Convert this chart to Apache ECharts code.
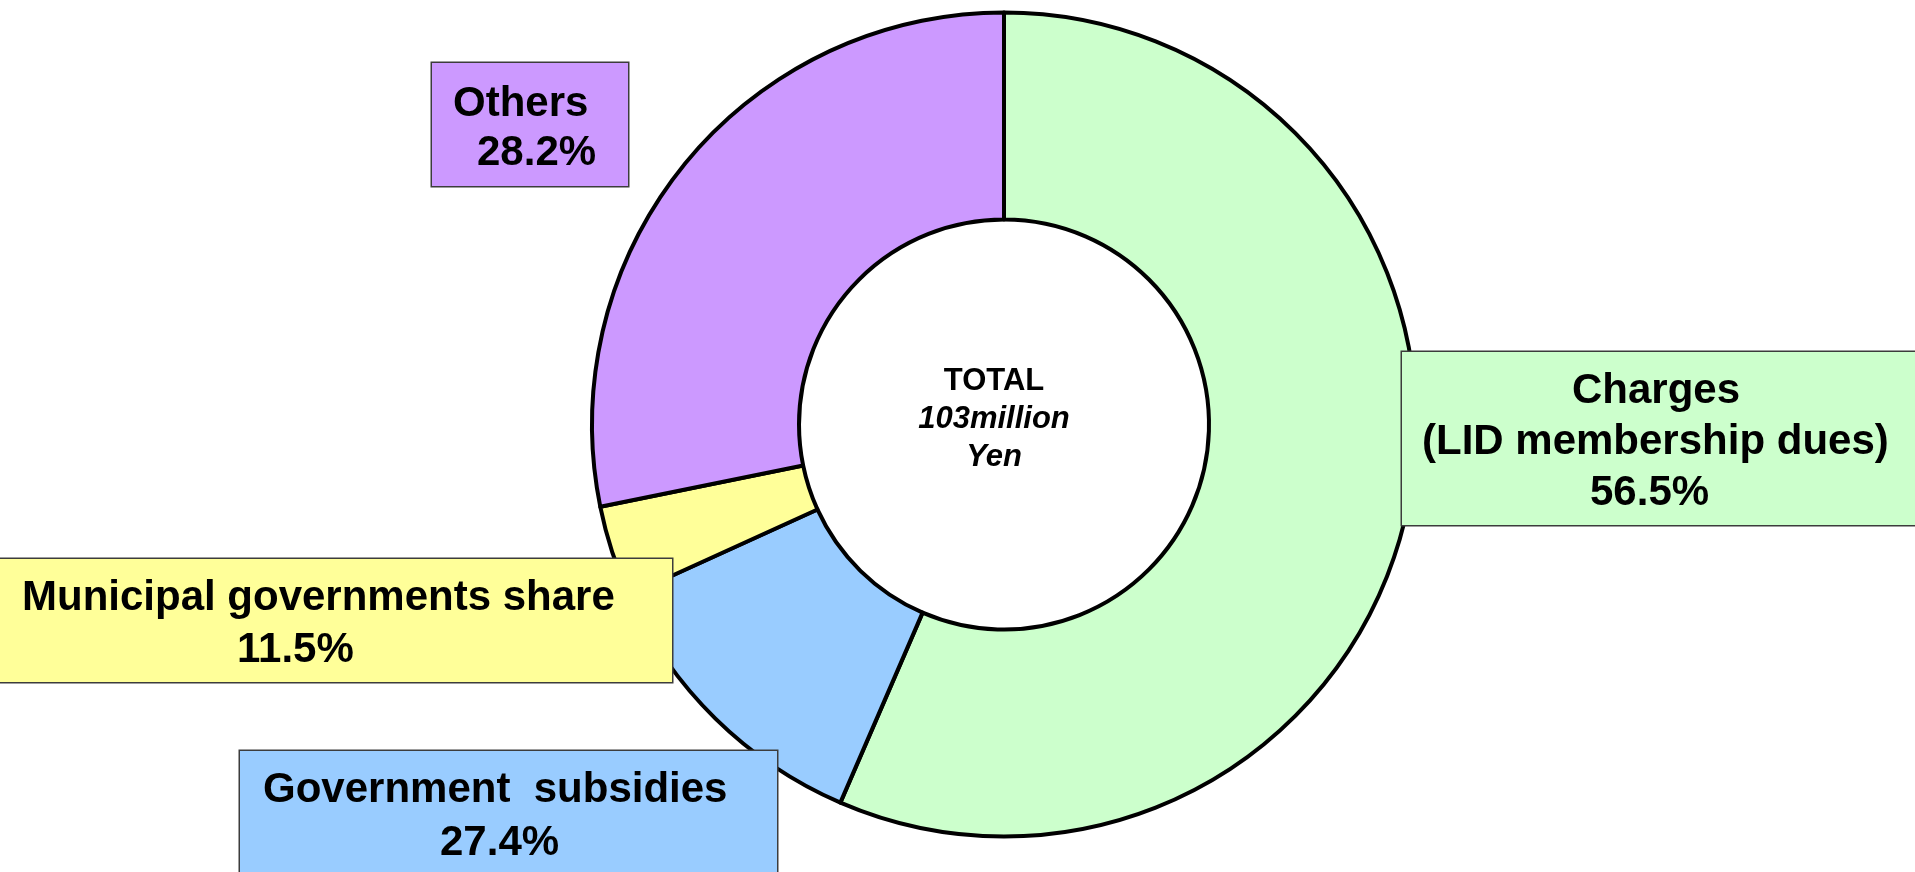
<!DOCTYPE html>
<html>
<head>
<meta charset="utf-8">
<title>Revenue breakdown</title>
<script src="https://cdn.jsdelivr.net/npm/echarts@6/dist/echarts.min.js"></script>
<style>
  html, body { margin: 0; padding: 0; background: #ffffff; }
  #chart { width: 1915px; height: 872px; }
</style>
</head>
<body>
<div id="chart"></div>
<script>
// Revenue sources, clockwise from 12 o'clock
const categories = ['Charges', 'Government  subsidies', 'Municipal governments share', 'Others'];
// Slice sizes (share of the ring, %)
const shares = [56.5, 11.7, 3.6, 28.2];
// Printed callout text for each source
const labelLines = [
  ['Charges', '(LID membership dues)', '56.5%'],
  ['Government  subsidies', '27.4%'],
  ['Municipal governments share', '11.5%'],
  ['Others', '28.2%']
];
const sliceColors = ['#CCFFCC', '#99CCFF', '#FFFF99', '#CC99FF'];
// Text in the hole of the ring
const centerLines = ['TOTAL', '103million', 'Yen'];

const FONT = '"Liberation Sans", Arial, Helvetica, sans-serif';

// Callout boxes: top-left corner, size, first-line offset, line spacing, per-line indent
const boxes = [
  { x: 1402, y: 352, w: 540, h: 173, top: 14,   lh: 51,   indent: [170, 20, 188] },
  { x: 240,  y: 751, w: 537, h: 140, top: 13.5, lh: 52.5, indent: [23, 200] },
  { x: 0,    y: 559, w: 672, h: 123, top: 14,   lh: 51.7, indent: [22, 237] },
  { x: 432,  y: 63,  w: 196, h: 123, top: 16.5, lh: 49,   indent: [21, 45] }
];

function calloutLabel(i) {
  const b = boxes[i];
  const rich = {};
  b.indent.forEach(function (pad, k) {
    rich['l' + k] = {
      fontFamily: FONT, fontSize: 42, fontWeight: 'bold', color: '#000000',
      lineHeight: b.lh, padding: [0, 0, 0, pad], align: 'left'
    };
  });
  return {
    show: true,
    formatter: labelLines[i].map(function (t, k) { return '{l' + k + '|' + t + '}'; }).join('\n'),
    rich: rich,
    backgroundColor: sliceColors[i],
    borderColor: '#3c3c3c',
    borderWidth: 1.5,
    padding: [b.top, 0, 0, 0],
    width: b.w,
    height: b.h - b.top,
    overflow: 'none',
    align: 'left',
    verticalAlign: 'top'
  };
}

const chart = echarts.init(document.getElementById('chart'), null, { renderer: 'canvas' });

chart.setOption({
  animation: false,
  backgroundColor: '#ffffff',
  series: [{
    type: 'pie',
    center: [1004, 424.5],
    radius: [205, 412],
    startAngle: 90,
    clockwise: true,
    avoidLabelOverlap: false,
    silent: true,
    itemStyle: { borderColor: '#000000', borderWidth: 4 },
    labelLine: { show: false },
    labelLayout: function (params) {
      const b = boxes[params.dataIndex];
      return { x: b.x, y: b.y, align: 'left', verticalAlign: 'top' };
    },
    data: categories.map(function (name, i) {
      return {
        name: name,
        value: shares[i],
        itemStyle: { color: sliceColors[i] },
        label: calloutLabel(i)
      };
    })
  }],
  graphic: [{
    type: 'text',
    x: 994,
    y: 419,
    silent: true,
    style: {
      text: '{a|' + centerLines[0] + '}\n{b|' + centerLines[1] + '}\n{b|' + centerLines[2] + '}',
      align: 'center',
      verticalAlign: 'middle',
      rich: {
        a: { fontFamily: FONT, fontSize: 31, fontWeight: 'bold', lineHeight: 38, fill: '#000000', align: 'center' },
        b: { fontFamily: FONT, fontSize: 31, fontWeight: 'bold', fontStyle: 'italic', lineHeight: 38, fill: '#000000', align: 'center' }
      }
    }
  }]
});
</script>
</body>
</html>
